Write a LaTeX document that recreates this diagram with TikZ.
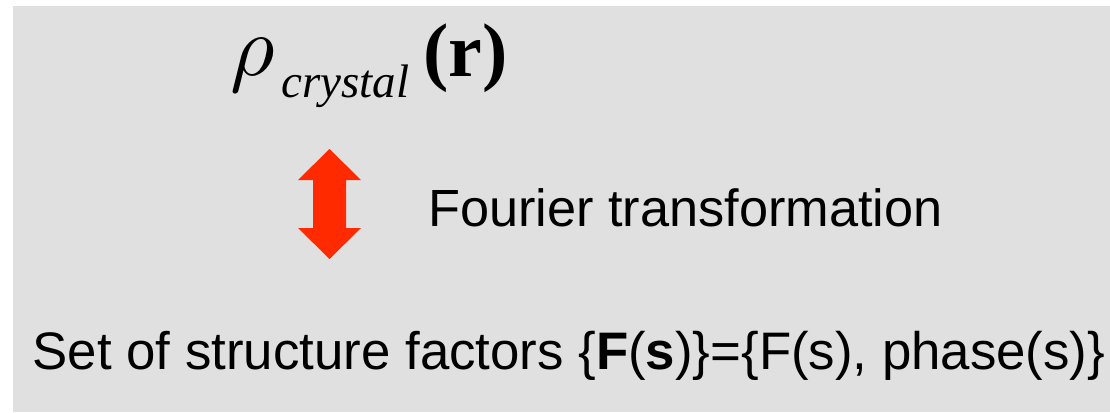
\documentclass[tikz,border=0pt]{standalone}
\usepackage{fontspec}
\setmainfont{Liberation Serif}
\newfontfamily\arialfont{Liberation Sans}
\definecolor{bggray}{HTML}{E0E0E0}
\definecolor{arrowred}{HTML}{FF2A00}
\tikzset{
  lbl/.style={inner sep=0pt, anchor=base west, text=black},
  sanslbl/.style={lbl, font=\arialfont\fontsize{52}{60}\selectfont},
}
\begin{document}
\begin{tikzpicture}[x=1pt,y=-1pt]
\useasboundingbox (0,0) rectangle (1110,412);
\fill[bggray] (13,6) rectangle (1110,412);
% double arrow
\fill[arrowred] (329.5,149) -- (361,180) -- (346,180) -- (346,228) -- (361,228)
  -- (329.5,259) -- (298,228) -- (313,228) -- (313,180) -- (298,180) -- cycle;
% rho crystal (r)
\node[lbl] (rho) at (230,75) {\fontsize{10}{12}\selectfont\scalebox{8.6}{$\rho$}};
\node[lbl, font=\fontsize{47}{52}\selectfont\itshape] (sub) at (281,97) {crystal};
\node[lbl, font=\fontsize{76}{80}\selectfont\bfseries] (r) at (423,77) {(r)};
% labels
\node[sanslbl, font=\arialfont\fontsize{52.3}{60}\selectfont] (ft) at (428,226) {Fourier transformation};
\node[sanslbl, font=\arialfont\fontsize{52.8}{60}\selectfont] (sf) at (32.5,369) {Set of structure factors \{\textbf{F}(\textbf{s})\}=\{F(s), phase(s)\}};
\end{tikzpicture}
\end{document}
